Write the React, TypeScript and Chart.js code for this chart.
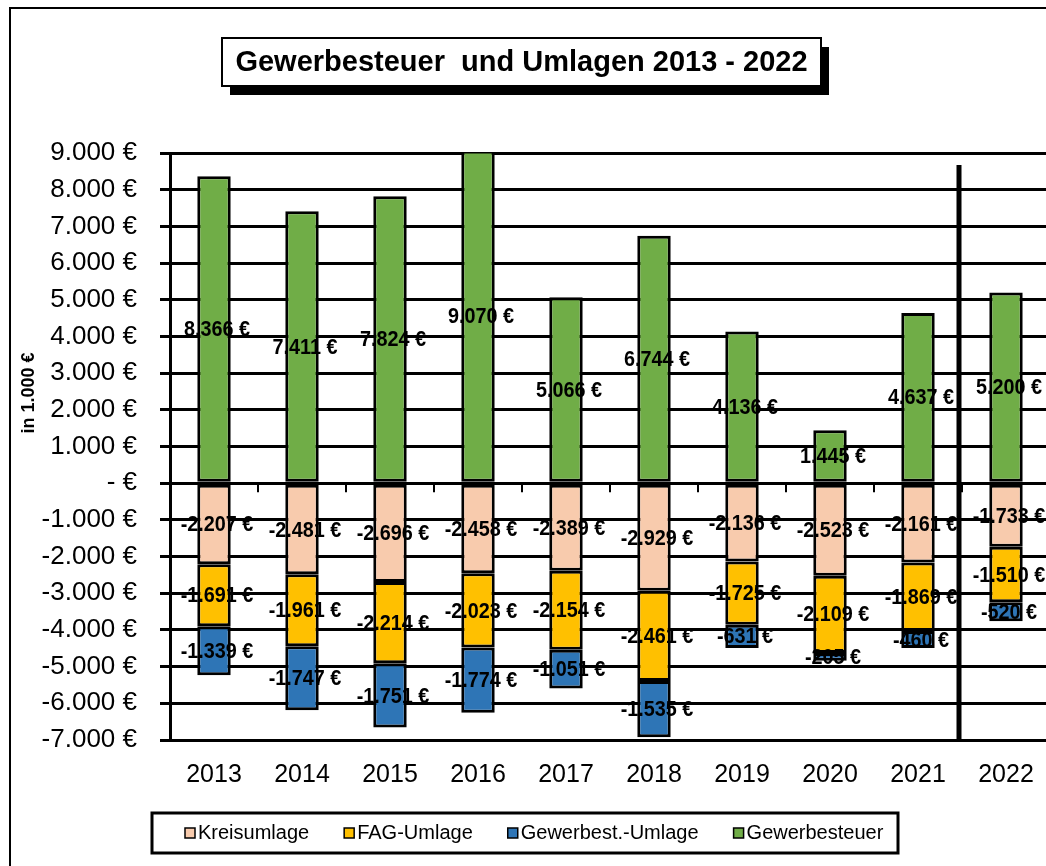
import React, { useEffect, useRef } from 'react';
import { Chart, registerables } from 'chart.js';

Chart.register(...registerables);

const years = ['2013', '2014', '2015', '2016', '2017', '2018', '2019', '2020', '2021', '2022'];
const gewerbesteuer = [8366, 7411, 7824, 9070, 5066, 6744, 4136, 1445, 4637, 5200];
const kreisumlage = [-2207, -2481, -2696, -2458, -2389, -2929, -2136, -2523, -2161, -1733];
const fagUmlage = [-1691, -1961, -2214, -2023, -2154, -2461, -1725, -2109, -1869, -1510];
const gewerbestUmlage = [-1339, -1747, -1751, -1774, -1051, -1535, -631, -205, -460, -520];

const yMin = -7000;
const yMax = 9000;
const yStep = 1000;

const titleText = 'Gewerbesteuer  und Umlagen 2013 - 2022';
const yTitle = 'in 1.000 €';

const FONT = '"Liberation Sans", Arial, sans-serif';

const fmt = (v: number) => {
  if (v === 0) return '- €';
  const s = Math.abs(v).toString().replace(/\B(?=(\d{3})+(?!\d))/g, '.');
  return (v < 0 ? '-' : '') + s + ' €';
};

const decorPlugin = {
  id: 'decor',
  beforeDraw(chart: any) {
    const ctx = chart.ctx;
    ctx.save();
    ctx.fillStyle = '#ffffff';
    ctx.fillRect(0, 0, chart.width, chart.height);
    ctx.restore();
  },
  afterDraw(chart: any) {
    const ctx = chart.ctx;
    const xs = chart.scales.x;
    const ys = chart.scales.y;
    const area = chart.chartArea;
    ctx.save();

    // outer frame
    ctx.strokeStyle = '#000';
    ctx.lineWidth = 2;
    ctx.strokeRect(10, 8, chart.width + 50, chart.height + 50);

    // data labels
    ctx.fillStyle = '#000';
    ctx.textAlign = 'center';
    ctx.textBaseline = 'middle';
    chart.data.datasets.forEach((ds: any, di: number) => {
      const meta = chart.getDatasetMeta(di);
      meta.data.forEach((el: any, i: number) => {
        const v = ds.data[i];
        const cy = (el.y + el.base) / 2;
        ctx.save();
        ctx.translate(el.x + 3, cy + 1);
        ctx.scale(0.9, 1);
        ctx.font = `bold 22px ${FONT}`;
        ctx.fillText(fmt(v), 0, 0);
        ctx.restore();
      });
    });

    // tick marks below the zero line at category boundaries
    const y0 = ys.getPixelForValue(0);
    ctx.strokeStyle = '#000';
    ctx.lineWidth = 2;
    for (let i = 0; i < years.length - 1; i++) {
      const bx = (xs.getPixelForValue(i) + xs.getPixelForValue(i + 1)) / 2;
      ctx.beginPath();
      ctx.moveTo(bx, y0);
      ctx.lineTo(bx, y0 + 9);
      ctx.stroke();
    }

    // separator between 2021 and 2022
    const sx = (xs.getPixelForValue(8) + xs.getPixelForValue(9)) / 2 - 3;
    ctx.lineWidth = 5;
    ctx.beginPath();
    ctx.moveTo(sx, 165);
    ctx.lineTo(sx, area.bottom + 2);
    ctx.stroke();

    // y-axis title
    ctx.save();
    ctx.translate(29, 393);
    ctx.rotate(-Math.PI / 2);
    ctx.font = `bold 18px ${FONT}`;
    ctx.textAlign = 'center';
    ctx.textBaseline = 'middle';
    ctx.fillStyle = '#000';
    ctx.fillText(yTitle, 0, 0);
    ctx.restore();

    // title box with shadow
    const tx = 222, ty = 38, tw = 599, th = 48;
    ctx.fillStyle = '#000';
    ctx.fillRect(tx + 8, ty + 9, tw, th);
    ctx.fillStyle = '#fff';
    ctx.fillRect(tx, ty, tw, th);
    ctx.strokeStyle = '#000';
    ctx.lineWidth = 2;
    ctx.strokeRect(tx, ty, tw, th);
    ctx.fillStyle = '#000';
    ctx.font = `bold 29px ${FONT}`;
    ctx.textAlign = 'center';
    ctx.textBaseline = 'middle';
    ctx.fillText(titleText, tx + tw / 2, ty + th / 2 + 1);

    // legend
    const lx = 152, ly = 813, lw = 746, lh = 40;
    ctx.fillStyle = '#fff';
    ctx.fillRect(lx, ly, lw, lh);
    ctx.strokeStyle = '#000';
    ctx.lineWidth = 3;
    ctx.strokeRect(lx, ly, lw, lh);
    ctx.font = `20px ${FONT}`;
    ctx.textAlign = 'left';
    ctx.textBaseline = 'middle';
    let cx = 185;
    const cyL = ly + lh / 2;
    [0, 1, 2, 3].forEach((di) => {
      const ds = chart.data.datasets[di];
      ctx.fillStyle = ds.backgroundColor;
      ctx.fillRect(cx, cyL - 5, 10, 10);
      ctx.strokeStyle = '#000';
      ctx.lineWidth = 1.5;
      ctx.strokeRect(cx, cyL - 5, 10, 10);
      ctx.fillStyle = '#000';
      ctx.fillText(ds.label, cx + 13, cyL);
      cx += 13 + ctx.measureText(ds.label).width + 35;
    });

    ctx.restore();
  },
};

export default function App() {
  const ref = useRef<HTMLCanvasElement | null>(null);

  useEffect(() => {
    if (!ref.current) return;
    const common = {
      borderColor: '#000',
      borderWidth: 3,
      borderSkipped: false,
      barPercentage: 0.38,
      categoryPercentage: 1,
      stack: 's',
    };
    const chart = new Chart(ref.current, {
      type: 'bar',
      data: {
        labels: years,
        datasets: [
          { label: 'Kreisumlage', data: kreisumlage, backgroundColor: '#F8CBAD', ...common },
          { label: 'FAG-Umlage', data: fagUmlage, backgroundColor: '#FFC000', ...common },
          { label: 'Gewerbest.-Umlage', data: gewerbestUmlage, backgroundColor: '#2E75B6', ...common },
          { label: 'Gewerbesteuer', data: gewerbesteuer, backgroundColor: '#70AD47', ...common },
        ],
      } as any,
      options: {
        animation: false,
        responsive: false,
        maintainAspectRatio: false,
        devicePixelRatio: 1,
        layout: { padding: { left: 0, right: 50, top: 153, bottom: 0 } },
        plugins: {
          legend: { display: false },
          title: { display: false },
          tooltip: { enabled: false },
        },
        scales: {
          x: {
            stacked: true,
            grid: { display: false, drawTicks: false },
            border: { display: false },
            ticks: {
              color: '#000',
              font: { family: FONT, size: 25 },
              padding: 20,
            },
            afterFit: (s: any) => {
              s.height = 126;
            },
          },
          y: {
            stacked: true,
            min: yMin,
            max: yMax,
            ticks: {
              stepSize: yStep,
              color: '#000',
              font: { family: FONT, size: 26 },
              padding: 23,
              callback: (v: any) => fmt(Number(v)),
            },
            grid: { color: '#000', lineWidth: 3, tickLength: 10, drawTicks: true },
            border: { display: true, color: '#000', width: 3 },
            afterFit: (s: any) => {
              s.width = 170;
            },
          },
        },
      } as any,
      plugins: [decorPlugin],
    });
    return () => chart.destroy();
  }, []);

  return (
    <div style={{ position: 'absolute', left: 0, top: 0, width: 1046, height: 866, overflow: 'hidden', background: '#fff' }}>
      <canvas ref={ref} width={1100} height={866} style={{ width: 1100, height: 866, display: 'block' }} />
    </div>
  );
}
